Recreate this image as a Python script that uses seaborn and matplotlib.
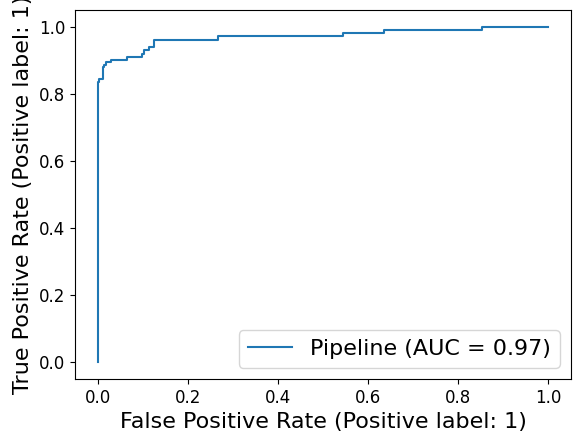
import matplotlib
matplotlib.use('Agg')
import matplotlib.pyplot as plt
import seaborn as sns
import pandas as pd

# ROC curve corner points
fpr = [0.0, 0.0, 0.004, 0.004, 0.012, 0.012, 0.015, 0.015, 0.019, 0.019,
       0.029, 0.029, 0.066, 0.066, 0.098, 0.098, 0.103, 0.103, 0.114, 0.114,
       0.125, 0.125, 0.267, 0.267, 0.544, 0.544, 0.635, 0.635, 0.853, 0.853,
       1.0]
tpr = [0.0, 0.834, 0.834, 0.844, 0.844, 0.879, 0.879, 0.886, 0.886, 0.894,
       0.894, 0.902, 0.902, 0.911, 0.911, 0.919, 0.919, 0.932, 0.932, 0.941,
       0.941, 0.961, 0.961, 0.972, 0.972, 0.982, 0.982, 0.991, 0.991, 1.0,
       1.0]
curve_label = 'Pipeline (AUC = 0.97)'

df = pd.DataFrame({'fpr': fpr, 'tpr': tpr})

fig = plt.figure(figsize=(5.8, 4.42), dpi=100)
ax = fig.add_axes([75 / 580, 63 / 442, 496 / 580, 369 / 442])

sns.lineplot(data=df, x='fpr', y='tpr', sort=False, estimator=None,
             color='#1f77b4', linewidth=1.5, label=curve_label, ax=ax)

ax.set_xlabel('False Positive Rate (Positive label: 1)', fontsize=16)
ax.set_ylabel('True Positive Rate (Positive label: 1)', fontsize=16)
ax.tick_params(labelsize=12)
ax.legend(loc='lower right', fontsize=16)

plt.savefig('out.png', dpi=100)
